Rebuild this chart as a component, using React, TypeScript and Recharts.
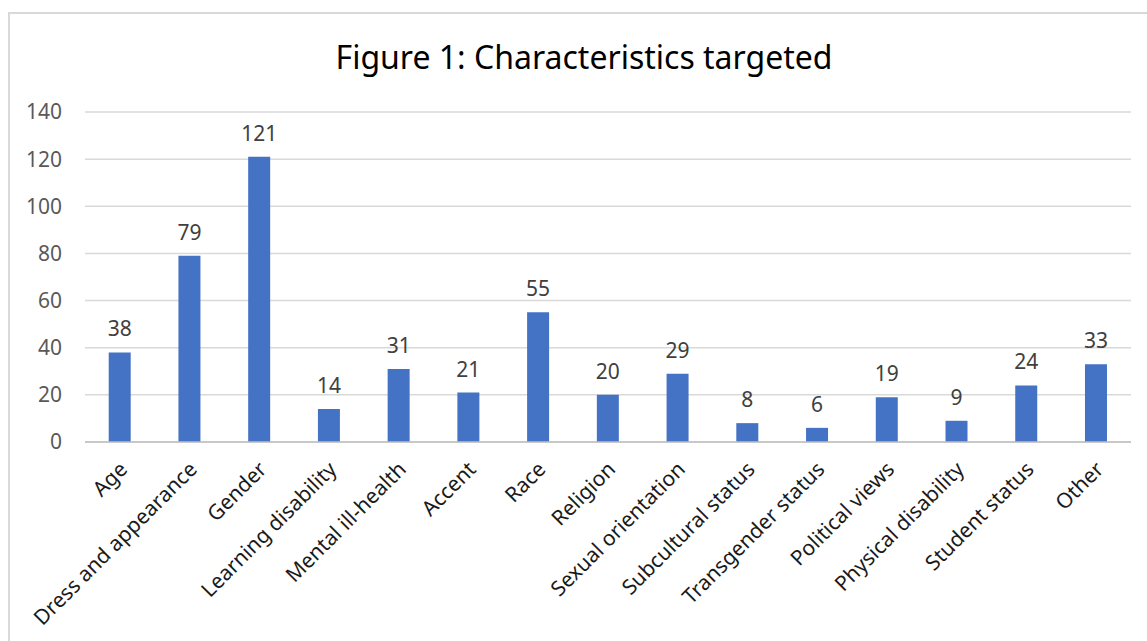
import { BarChart, Bar, XAxis, YAxis, CartesianGrid, LabelList } from "recharts"

const categories = [
  "Age",
  "Dress and appearance",
  "Gender",
  "Learning disability",
  "Mental ill-health",
  "Accent",
  "Race",
  "Religion",
  "Sexual orientation",
  "Subcultural status",
  "Transgender status",
  "Political views",
  "Physical disability",
  "Student status",
  "Other",
]

const counts = [38, 79, 121, 14, 31, 21, 55, 20, 29, 8, 6, 19, 9, 24, 33]

const yTicks = [0, 20, 40, 60, 80, 100, 120, 140]

const data = categories.map((category, i) => ({ category, count: counts[i] }))

const FONT = "'Noto Sans', 'Open Sans', sans-serif"

function AngledTick({ x, y, payload }: any) {
  const tx = x + 3
  const ty = y + 15
  return (
    <text
      x={tx}
      y={ty}
      transform={`rotate(-45, ${tx}, ${ty})`}
      textAnchor="end"
      dominantBaseline="central"
      fill="#1a1a1a"
      fontSize={21}
      fontFamily={FONT}
    >
      {payload.value}
    </text>
  )
}

export default function App() {
  return (
    <div style={{ position: "relative", width: 1147, height: 641, overflow: "hidden", background: "#fff" }}>
      <style>{`body { margin: 0; overflow: hidden; }`}</style>
      <div
        style={{
          position: "absolute",
          left: 8,
          top: 12,
          width: 1200,
          height: 700,
          border: "2px solid #d9d9d9",
          boxSizing: "border-box",
        }}
      />
      <div
        style={{
          position: "absolute",
          left: 0,
          width: 1168,
          top: 36,
          textAlign: "center",
          fontFamily: FONT,
          fontSize: 32,
          color: "#000",
          lineHeight: "42px",
        }}
      >
        Figure 1: Characteristics targeted
      </div>
      <div style={{ position: "absolute", left: 0, top: 0 }}>
        <BarChart
          width={1147}
          height={641}
          data={data}
          margin={{ top: 112, right: 16, left: 0, bottom: 0 }}
          barCategoryGap="34%"
        >
          <CartesianGrid vertical={false} stroke="#d9d9d9" strokeWidth={1.5} />
          <XAxis
            dataKey="category"
            interval={0}
            height={199}
            tick={<AngledTick />}
            tickLine={false}
            axisLine={{ stroke: "#bfbfbf", strokeWidth: 1.5 }}
          />
          <YAxis
            domain={[0, 140]}
            ticks={yTicks}
            width={85}
            axisLine={false}
            tickLine={false}
            tickSize={0}
            tickMargin={23}
            tick={{ fill: "#595959", fontSize: 21, fontFamily: FONT }}
          />
          <Bar dataKey="count" fill="#4472C4" isAnimationActive={false}>
            <LabelList
              dataKey="count"
              position="top"
              offset={16}
              fill="#404040"
              fontSize={21}
              fontFamily={FONT}
            />
          </Bar>
        </BarChart>
      </div>
    </div>
  )
}
